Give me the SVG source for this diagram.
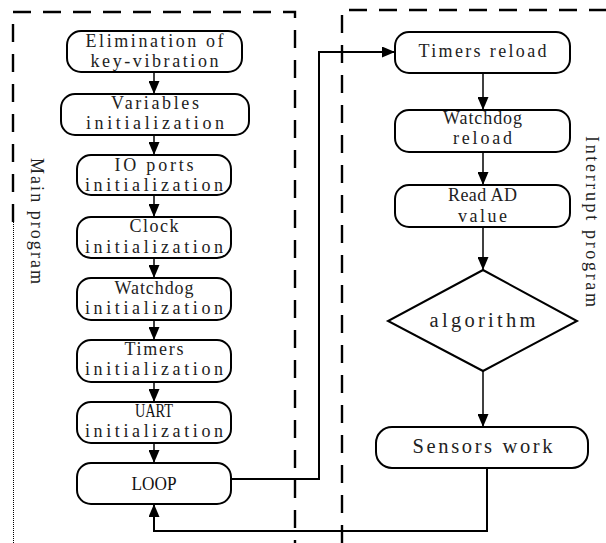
<svg xmlns="http://www.w3.org/2000/svg" width="606" height="543" viewBox="0 0 606 543">
  <style>
    .node rect, .node polygon { fill: #fff; stroke: #000; stroke-width: 2; }
    .t { font-family: "Liberation Serif", "Times New Roman", serif; font-size: 18px; fill: #222; text-anchor: middle; }
    .tl { font-family: "Liberation Serif", "Times New Roman", serif; font-size: 20.5px; fill: #222; text-anchor: middle; }
    .ts { font-family: "Liberation Serif", "Times New Roman", serif; font-size: 19px; fill: #111; text-anchor: middle; }
    .lbl { font-family: "Liberation Serif", "Times New Roman", serif; font-size: 18px; fill: #222; }
    .frame { fill: none; stroke: #000; stroke-width: 2.4; stroke-dasharray: 18 12; }
    .dot { fill: none; stroke: #000; stroke-width: 1; stroke-dasharray: 1 1; }
    .conn { fill: none; stroke: #000; stroke-width: 1.5; }
    .conn2 { fill: none; stroke: #000; stroke-width: 2; }
  </style>
  <defs>
    <marker id="arrow" viewBox="0 0 13 11" markerWidth="13" markerHeight="11" refX="13" refY="5.5" orient="auto" markerUnits="userSpaceOnUse">
      <path d="M0,0 L13,5.5 L0,11 z" fill="#000"/>
    </marker>
  </defs>

  <rect width="606" height="543" fill="#fff"/>

  <!-- program frames -->
  <g id="frames">
    <path class="frame" d="M13,222 L13,12 L295,12 L295,543"/>
    <path class="dot" d="M13.5,222 L13.5,543"/>
    <path class="frame" d="M342,543 L342,10 L606,10"/>
    <text class="lbl" transform="translate(31,158) rotate(90)" textLength="126" lengthAdjust="spacing">Main program</text>
    <text class="lbl" transform="translate(586,136) rotate(90)" textLength="171" lengthAdjust="spacing">Interrupt program</text>
  </g>

  <!-- connectors -->
  <g id="connectors">
    <line class="conn" x1="154" y1="72" x2="154" y2="94" marker-end="url(#arrow)"/>
    <line class="conn" x1="154" y1="135" x2="154" y2="155" marker-end="url(#arrow)"/>
    <line class="conn" x1="154" y1="195" x2="154" y2="217" marker-end="url(#arrow)"/>
    <line class="conn" x1="154" y1="258" x2="154" y2="278" marker-end="url(#arrow)"/>
    <line class="conn" x1="154" y1="320" x2="154" y2="340" marker-end="url(#arrow)"/>
    <line class="conn" x1="154" y1="382" x2="154" y2="402" marker-end="url(#arrow)"/>
    <line class="conn" x1="154" y1="443" x2="154" y2="463" marker-end="url(#arrow)"/>
    <polyline class="conn2" points="231,479 319,479 319,52 395,52" marker-end="url(#arrow)"/>
    <line class="conn" x1="483" y1="73" x2="483" y2="110" marker-end="url(#arrow)"/>
    <line class="conn" x1="483" y1="152" x2="483" y2="185" marker-end="url(#arrow)"/>
    <line class="conn" x1="483" y1="227" x2="483" y2="270" marker-end="url(#arrow)"/>
    <line class="conn" x1="483" y1="371" x2="483" y2="427" marker-end="url(#arrow)"/>
    <polyline class="conn2" points="487,468 487,531 154,531 154,504" marker-end="url(#arrow)"/>
  </g>

  <!-- main program nodes -->
  <g id="n-elimination" class="node">
    <rect x="67" y="31" width="175" height="41" rx="14"/>
    <text class="t" x="154.5" y="47" textLength="138" lengthAdjust="spacing">Elimination of</text>
    <text class="t" x="154.5" y="67" textLength="128" lengthAdjust="spacing">key-vibration</text>
  </g>
  <g id="n-variables" class="node">
    <rect x="61" y="94" width="188" height="41" rx="14"/>
    <text class="t" x="155" y="109" textLength="88" lengthAdjust="spacing">Variables</text>
    <text class="t" x="155" y="129" textLength="138" lengthAdjust="spacing">initialization</text>
  </g>
  <g id="n-io" class="node">
    <rect x="77" y="155" width="154" height="40" rx="14"/>
    <text class="t" x="154" y="171" textLength="79" lengthAdjust="spacing">IO ports</text>
    <text class="t" x="154" y="191" textLength="138" lengthAdjust="spacing">initialization</text>
  </g>
  <g id="n-clock" class="node">
    <rect x="77" y="217" width="154" height="41" rx="14"/>
    <text class="t" x="154" y="232" textLength="49" lengthAdjust="spacing">Clock</text>
    <text class="t" x="154" y="252.5" textLength="138" lengthAdjust="spacing">initialization</text>
  </g>
  <g id="n-watchdog" class="node">
    <rect x="77" y="278" width="154" height="42" rx="14"/>
    <text class="t" x="154" y="294" textLength="79" lengthAdjust="spacing">Watchdog</text>
    <text class="t" x="154" y="314" textLength="138" lengthAdjust="spacing">initialization</text>
  </g>
  <g id="n-timers" class="node">
    <rect x="77" y="340" width="154" height="42" rx="14"/>
    <text class="t" x="154" y="355" textLength="59" lengthAdjust="spacing">Timers</text>
    <text class="t" x="154" y="375" textLength="138" lengthAdjust="spacing">initialization</text>
  </g>
  <g id="n-uart" class="node">
    <rect x="77" y="402" width="154" height="41" rx="14"/>
    <text class="ts" x="154" y="417" textLength="38" lengthAdjust="spacingAndGlyphs">UART</text>
    <text class="t" x="154" y="437" textLength="138" lengthAdjust="spacing">initialization</text>
  </g>
  <g id="n-loop" class="node">
    <rect x="77" y="463" width="154" height="41" rx="14"/>
    <text class="ts" x="154" y="490" textLength="45" lengthAdjust="spacingAndGlyphs">LOOP</text>
  </g>

  <!-- interrupt program nodes -->
  <g id="n-timers-reload" class="node">
    <rect x="395" y="32" width="175" height="41" rx="14"/>
    <text class="t" x="482.5" y="57" textLength="128" lengthAdjust="spacing">Timers reload</text>
  </g>
  <g id="n-watchdog-reload" class="node">
    <rect x="395" y="110" width="175" height="42" rx="14"/>
    <text class="t" x="482.5" y="124" textLength="79" lengthAdjust="spacing">Watchdog</text>
    <text class="t" x="482.5" y="144" textLength="59" lengthAdjust="spacing">reload</text>
  </g>
  <g id="n-read-ad" class="node">
    <rect x="395" y="185" width="175" height="42" rx="14"/>
    <text class="t" x="482.5" y="200.5" textLength="69" lengthAdjust="spacing">Read AD</text>
    <text class="t" x="482.5" y="221.5" textLength="49" lengthAdjust="spacing">value</text>
  </g>
  <g id="n-algorithm" class="node">
    <polygon points="483,270 577,321 483,371 388,321"/>
    <text class="tl" x="482.5" y="327" textLength="106" lengthAdjust="spacing">algorithm</text>
  </g>
  <g id="n-sensors" class="node">
    <rect x="376" y="427" width="212" height="41" rx="16"/>
    <text class="tl" x="482.5" y="453" textLength="140" lengthAdjust="spacing">Sensors work</text>
  </g>
</svg>
